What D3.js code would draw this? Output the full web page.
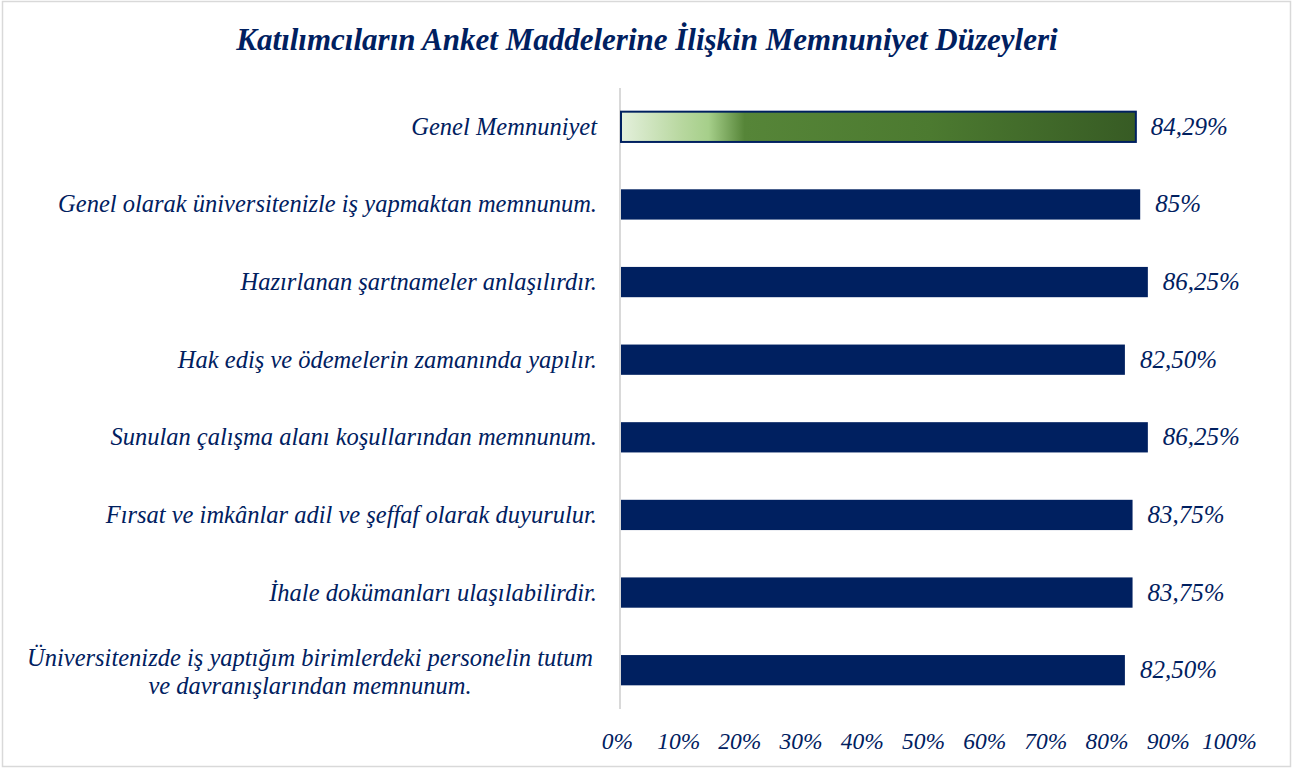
<!DOCTYPE html>
<html>
<head>
<meta charset="utf-8">
<script src="https://cdn.jsdelivr.net/npm/d3@7"></script>
<style>
  body { margin: 0; background: #fff; }
  svg text { font-family: "Liberation Serif", serif; font-style: italic; fill: #002060; }
</style>
</head>
<body>
<svg width="1299" height="769"></svg>
<script>
const categories = [
  'Genel Memnuniyet',
  'Genel olarak üniversitenizle iş yapmaktan memnunum.',
  'Hazırlanan şartnameler anlaşılırdır.',
  'Hak ediş ve ödemelerin zamanında yapılır.',
  'Sunulan çalışma alanı koşullarından memnunum.',
  'Fırsat ve imkânlar adil ve şeffaf olarak duyurulur.',
  'İhale dokümanları ulaşılabilirdir.',
  'Üniversitenizde iş yaptığım birimlerdeki personelin tutum|ve davranışlarından memnunum.'
];
const values = [84.29, 85, 86.25, 82.5, 86.25, 83.75, 83.75, 82.5];
const valueLabels = ['84,29%', '85%', '86,25%', '82,50%', '86,25%', '83,75%', '83,75%', '82,50%'];
const tickValues = [0, 10, 20, 30, 40, 50, 60, 70, 80, 90, 100];

const svg = d3.select('svg');
const navy = '#002060';

// çerçeve
svg.append('rect')
  .attr('x', 2.5).attr('y', 1.5)
  .attr('width', 1288).attr('height', 765)
  .attr('fill', 'none').attr('stroke', '#d9d9d9').attr('stroke-width', 1.5);

svg.append('text')
  .attr('x', 647).attr('y', 50)
  .attr('text-anchor', 'middle')
  .style('font-size', '31px').style('font-weight', 'bold')
  .text('Katılımcıların Anket Maddelerine İlişkin Memnuniyet Düzeyleri');

const xScale = d3.scaleLinear().domain([0, 100]).range([620, 1232]);
const yScale = d3.scaleBand().domain(categories).range([88, 709]).paddingInner(0.61).paddingOuter(0.305);

// gradient for first bar
const defs = svg.append('defs');
const grad = defs.append('linearGradient').attr('id', 'greenGrad')
  .attr('x1', '0%').attr('x2', '100%').attr('y1', '0%').attr('y2', '0%');
[
  ['0%', '#e4f0dc'], ['12%', '#b7d79e'], ['17%', '#a6cf8a'], ['24%', '#568538'],
  ['60%', '#4c7a30'], ['100%', '#375b24']
].forEach(s => grad.append('stop').attr('offset', s[0]).attr('stop-color', s[1]));

// axis line
svg.append('line')
  .attr('x1', xScale(0)).attr('x2', xScale(0))
  .attr('y1', 88).attr('y2', 709)
  .attr('stroke', '#d9d9d9').attr('stroke-width', 2);

const bars = svg.append('g');
bars.selectAll('rect').data(categories).join('rect')
  .attr('x', xScale(0) + 1)
  .attr('y', d => yScale(d))
  .attr('width', (d, i) => xScale(values[i]) - xScale(0) - 1)
  .attr('height', yScale.bandwidth())
  .attr('fill', (d, i) => i === 0 ? 'url(#greenGrad)' : navy)
  .attr('stroke', (d, i) => i === 0 ? navy : 'none')
  .attr('stroke-width', 2);

// value labels
svg.append('g').selectAll('text').data(categories).join('text')
  .attr('x', (d, i) => xScale(values[i]) + 15)
  .attr('y', d => yScale(d) + yScale.bandwidth() / 2 + 8)
  .style('font-size', '25px')
  .text((d, i) => valueLabels[i]);

// category labels
const catG = svg.append('g');
categories.forEach(c => {
  const lines = c.split('|');
  const cy = yScale(c) + yScale.bandwidth() / 2;
  if (lines.length === 1) {
    catG.append('text')
      .attr('x', 597).attr('y', cy + 8)
      .attr('text-anchor', 'end')
      .style('font-size', '24.5px')
      .text(lines[0]);
  } else {
    lines.forEach((l, j) => {
      catG.append('text')
        .attr('x', 310).attr('y', cy - 4 + j * 28)
        .attr('text-anchor', 'middle')
        .style('font-size', '24.5px')
        .text(l);
    });
  }
});

// x axis labels
const axis = d3.axisBottom(xScale)
  .tickValues(tickValues)
  .tickSize(0)
  .tickFormat(d => d + '%');
const ax = svg.append('g')
  .attr('transform', 'translate(-3,729)')
  .call(axis);
ax.select('.domain').remove();
ax.selectAll('text')
  .attr('dy', '0.71em')
  .style('font-size', '23.5px')
  .style('fill', navy)
  .style('font-family', '"Liberation Serif", serif');
</script>
</body>
</html>
